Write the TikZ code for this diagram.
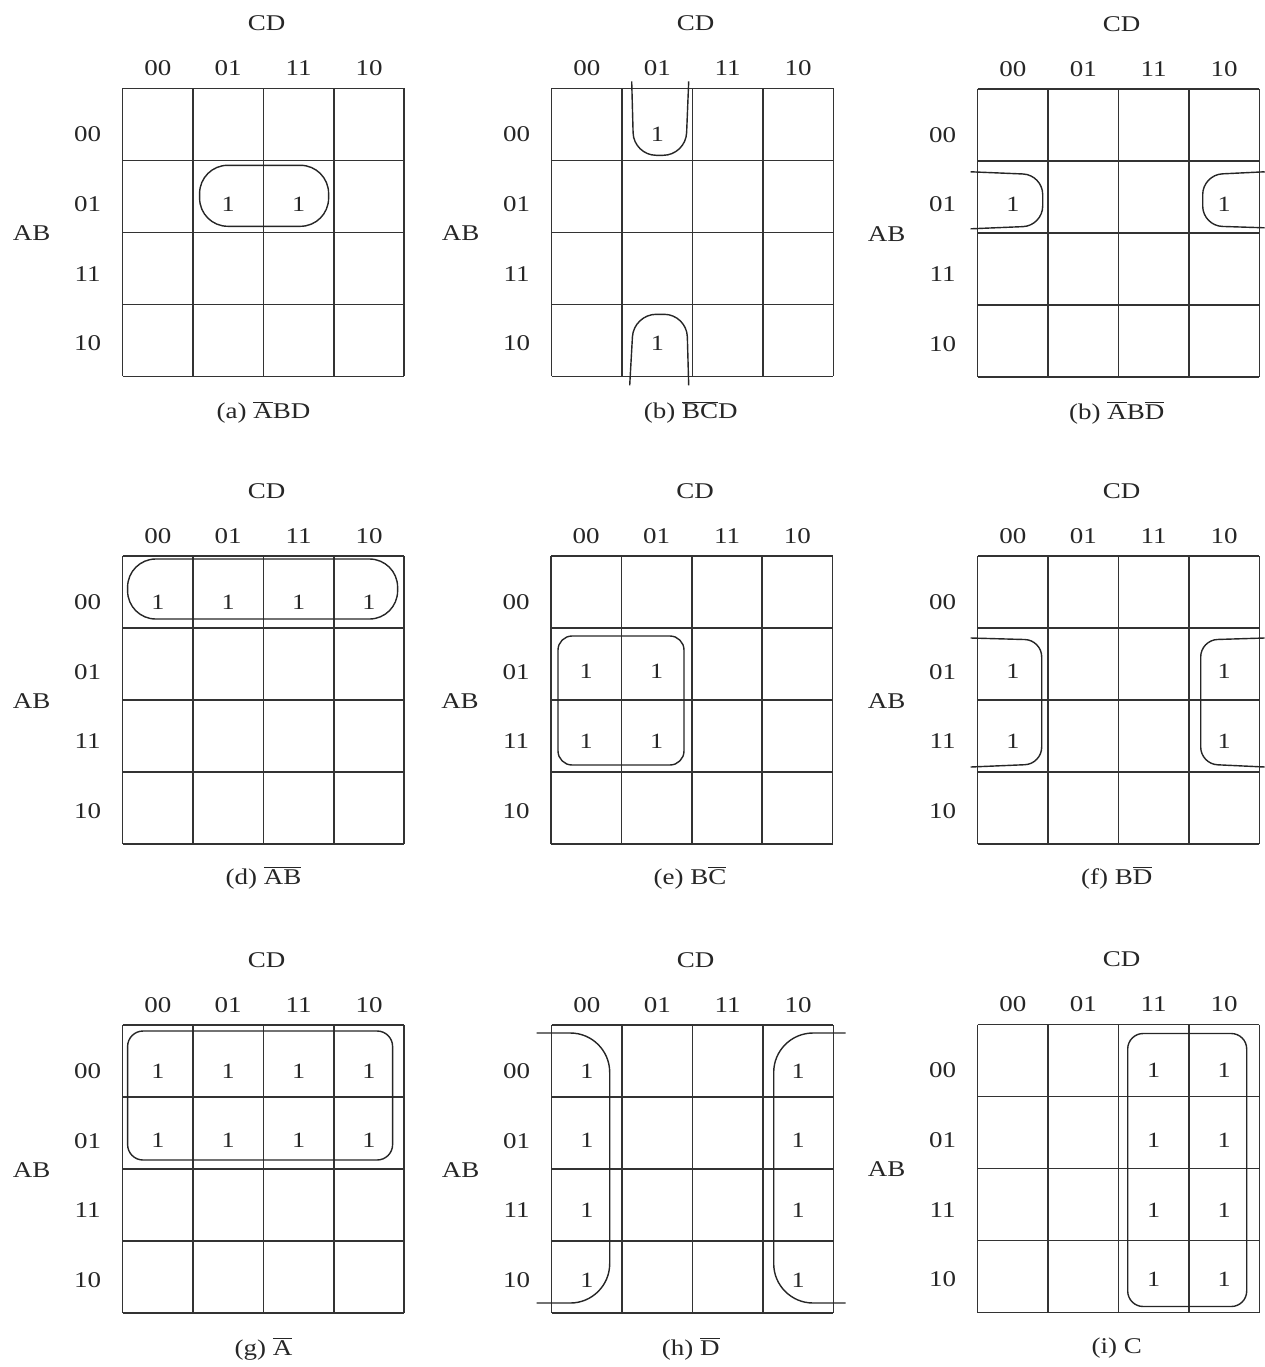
\documentclass[tikz,border=0pt]{standalone}
\usepackage{fontspec}
\setmainfont{Liberation Serif}[FakeStretch=1.2]
\newcommand{\inv}[1]{$\overline{\mbox{#1}}$}
\tikzset{
  lbl/.style={font=\fontsize{16}{18}\selectfont, inner sep=0pt, text=black!85},
  one/.style={font=\fontsize{15.5}{18}\selectfont, inner sep=0pt, text=black!85},
  captxt/.style={font=\fontsize{16}{18}\selectfont, inner sep=0pt, text=black!85},
  gl/.style={black!80, line width=1.1pt},
  lp/.style={black!85, line width=1pt},
  kmap/.pic={
    \foreach \i in {0,...,4} {
      \draw[gl] (\i*70.4,0) -- (\i*70.4,288);
      \draw[gl] (0,\i*72) -- (281.6,\i*72);
    }
    \node[lbl] (-cd) at (144,-65) {CD};
    \node[lbl] (-ab) at (-91,145) {AB};
    \foreach \g [count=\k from 0] in {00,01,11,10} {
      \node[lbl] (-c\k) at (\k*70.4+35.2,-20) {\g};
      \node[lbl] (-r\k) at (-35,\k*69.7+46) {\g};
    }
  },
}

\begin{document}
\begin{tikzpicture}[x=0.025cm, y=-0.025cm]
\useasboundingbox (0,0) rectangle (1264,1367);

% (a)
\begin{scope}[shift={(122.6,88.3)}]
\pic (a) {kmap};
\foreach \c/\r in {1/1,2/1}
  \node[one] (a1\c\r) at (\c*70.4+35.2,\r*69.7+46) {1};
\draw[lp, rounded corners=20pt] (77,77) rectangle (206,138);
\node[captxt] (acap) at (141,324) {(a) \inv{A}BD};
\end{scope}

% (b)
\begin{scope}[shift={(551.7,88.3)}]
\pic (b) {kmap};
\foreach \c/\r in {1/0,1/3}
  \node[one] (b1\c\r) at (\c*70.4+35.2,\r*69.7+46) {1};
\draw[lp, rounded corners=16pt] (80,-7) -- (82,67) -- (134,67) -- (137,-7);
\draw[lp, rounded corners=16pt] (78,297) -- (82,226) -- (135,226) -- (137,297);
\node[captxt] (bcap) at (139,324) {(b) \inv{B}\inv{C}D};
\end{scope}

% (b) right
\begin{scope}[shift={(977.7,88.8)}]
\pic (c) {kmap};
\foreach \c/\r in {0/1,3/1}
  \node[one] (c1\c\r) at (\c*70.4+35.2,\r*69.7+46) {1};
\draw[lp, rounded corners=14pt] (-7,83) -- (65,86) -- (65,137) -- (-7,140);
\draw[lp, rounded corners=14pt] (287,83) -- (225,86) -- (225,137) -- (287,139);
\node[captxt] (ccap) at (139,324) {(b) \inv{A}B\inv{D}};
\end{scope}

% (d)
\begin{scope}[shift={(122.6,556)}]
\pic (d) {kmap};
\foreach \c/\r in {0/0,1/0,2/0,3/0}
  \node[one] (d1\c\r) at (\c*70.4+35.2,\r*69.7+46) {1};
\draw[lp, rounded corners=20pt] (5,3) rectangle (275,63);
\node[captxt] (dcap) at (141,322) {(d) \inv{A}\inv{B}};
\end{scope}

% (e)
\begin{scope}[shift={(551,556)}]
\pic (e) {kmap};
\foreach \c/\r in {0/1,1/1,0/2,1/2}
  \node[one] (e1\c\r) at (\c*70.4+35.2,\r*69.7+46) {1};
\draw[lp, rounded corners=10pt] (7,80) rectangle (133,209);
\node[captxt] (ecap) at (139,322) {(e) B\inv{C}};
\end{scope}

% (f)
\begin{scope}[shift={(977.7,556)}]
\pic (f) {kmap};
\foreach \c/\r in {0/1,3/1,0/2,3/2}
  \node[one] (f1\c\r) at (\c*70.4+35.2,\r*69.7+46) {1};
\draw[lp, rounded corners=12pt] (-7,82) -- (64,84) -- (64,208) -- (-7,211);
\draw[lp, rounded corners=12pt] (287,82) -- (223,84) -- (223,208) -- (287,211);
\node[captxt] (fcap) at (139,322) {(f) B\inv{D}};
\end{scope}

% (g)
\begin{scope}[shift={(122.6,1025)}]
\pic (g) {kmap};
\foreach \c/\r in {0/0,1/0,2/0,3/0,0/1,1/1,2/1,3/1}
  \node[one] (g1\c\r) at (\c*70.4+35.2,\r*69.7+46) {1};
\draw[lp, rounded corners=11pt] (5,6) rectangle (270,135);
\node[captxt] (gcap) at (141,324) {(g) \inv{A}};
\end{scope}

% (h)
\begin{scope}[shift={(551.7,1025)}]
\pic (h) {kmap};
\foreach \c/\r in {0/0,0/1,0/2,0/3,3/0,3/1,3/2,3/3}
  \node[one] (h1\c\r) at (\c*70.4+35.2,\r*69.7+46) {1};
\draw[lp, rounded corners=28pt] (-15,8) -- (58,8) -- (58,278) -- (-15,278);
\draw[lp, rounded corners=28pt] (294,8) -- (222,8) -- (222,278) -- (294,278);
\node[captxt] (hcap) at (139,324) {(h) \inv{D}};
\end{scope}

% (i)
\begin{scope}[shift={(977.7,1024.5)}]
\pic (i) {kmap};
\foreach \c/\r in {2/0,3/0,2/1,3/1,2/2,3/2,2/3,3/3}
  \node[one] (i1\c\r) at (\c*70.4+35.2,\r*69.7+46) {1};
\draw[lp, rounded corners=11pt] (150,9) rectangle (269,282);
\node[captxt] (icap) at (139,324) {(i) C};
\end{scope}
\end{tikzpicture}
\end{document}
